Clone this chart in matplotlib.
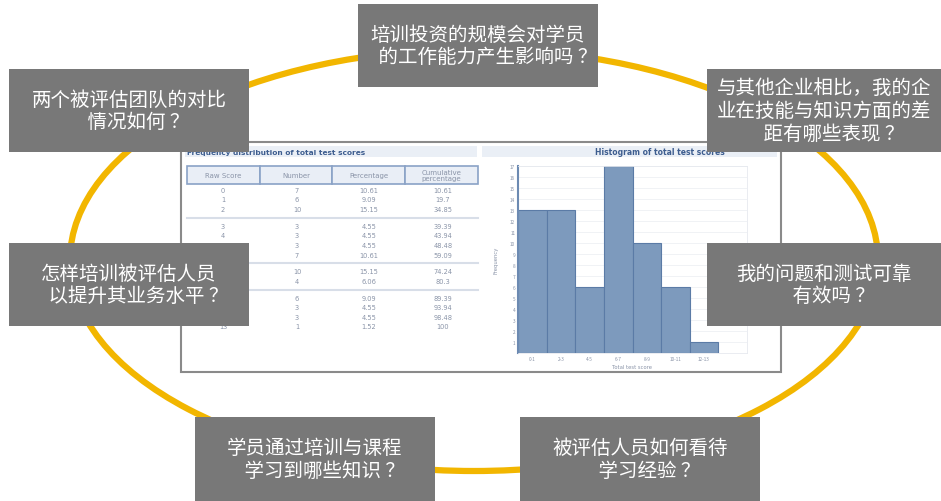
import numpy as np
import matplotlib
matplotlib.use("Agg")
import matplotlib.pyplot as plt
from matplotlib.patches import Ellipse, Rectangle

plt.rcParams['font.family'] = ['Noto Sans CJK SC', 'DejaVu Sans']

# question boxes (text)
questions = [
    "培训投资的规模会对学员\n　的工作能力产生影响吗 ？",
    "两个被评估团队的对比\n　情况如何 ？",
    "与其他企业相比，我的企\n业在技能与知识方面的差\n　距有哪些表现 ？",
    "怎样培训被评估人员\n　以提升其业务水平 ？",
    "我的问题和测试可靠\n　有效吗 ？",
    "学员通过培训与课程\n　学习到哪些知识 ？",
    "被评估人员如何看待\n　学习经验 ？",
]

# frequency table
raw_score = ["0", "1", "2", "3", "4", "5", "6", "7", "8", "9", "10", "11", "13"]
number = ["7", "6", "10", "3", "3", "3", "7", "10", "4", "6", "3", "3", "1"]
percentage = ["10.61", "9.09", "15.15", "4.55", "4.55", "4.55", "10.61",
              "15.15", "6.06", "9.09", "4.55", "4.55", "1.52"]
cumulative = ["10.61", "19.7", "34.85", "39.39", "43.94", "48.48", "59.09",
              "74.24", "80.3", "89.39", "93.94", "98.48", "100"]
table_header = ["Raw Score", "Number", "Percentage", "Cumulative\npercentage"]
group_sizes = [3, 4, 2, 4]

# histogram
bins = ["0-1", "2-3", "4-5", "6-7", "8-9", "10-11", "12-13"]
freq = [13, 13, 6, 17, 10, 6, 1]

W, H = 941, 502
fig = plt.figure(figsize=(W / 100, H / 100), dpi=100)

# background layer: ellipse + screenshot panel
ax = fig.add_axes([0, 0, 1, 1])
ax.set_xlim(0, W)
ax.set_ylim(H, 0)
ax.axis('off')
ax.set_zorder(0)

ax.add_patch(Ellipse((474, 261), 808, 422, fill=False, edgecolor='#F2B600', lw=4.5))
ax.add_patch(Rectangle((181, 143), 600, 230, facecolor='white', edgecolor='#8a8a8a', lw=1.5))
ax.add_patch(Rectangle((185, 147), 292, 11, facecolor='#eaeff6', edgecolor='none'))
ax.add_patch(Rectangle((482, 147), 295, 11, facecolor='#eaeff6', edgecolor='none'))
ax.text(187, 153, "Frequency distribution of total test scores", fontsize=5.3,
        fontweight='bold', color='#3d5d8f', va='center', family='DejaVu Sans')
ax.text(660, 153, "Histogram of total test scores", fontsize=5.5,
        fontweight='bold', color='#3d5d8f', va='center', ha='center', family='DejaVu Sans')

col_edges = [187, 260, 332, 405, 478]
for i, lab in enumerate(table_header):
    ax.add_patch(Rectangle((col_edges[i], 167), col_edges[i + 1] - col_edges[i], 18,
                           facecolor='#e9eef6', edgecolor='#8aa2c6', lw=1.2))
    ax.text((col_edges[i] + col_edges[i + 1]) / 2, 176, lab, fontsize=5, color='#8a94a8',
            ha='center', va='center', linespacing=0.85, family='DejaVu Sans')

col_x = [223, 297, 369, 443]
row_y = []
r = 0
for g, n in enumerate(group_sizes):
    for k in range(n):
        row_y.append(191 + r * 9.5 + g * 7.5)
        r += 1
for i in range(len(raw_score)):
    for j, col in enumerate([raw_score, number, percentage, cumulative]):
        ax.text(col_x[j], row_y[i], col[i], fontsize=4.8, color='#8a94a8',
                ha='center', va='center', family='DejaVu Sans')
r = 0
for g, n in enumerate(group_sizes[:-1]):
    r += n
    ysep = (row_y[r - 1] + row_y[r]) / 2
    ax.plot([187, 478], [ysep, ysep], color='#d8dee8', lw=1.5)

# histogram
hx = fig.add_axes([518 / W, 1 - 354 / H, 229 / W, 187 / H])
hx.set_zorder(1)
xpos = np.arange(len(bins))
hx.bar(xpos, freq, width=1, color='#7d9abd', edgecolor='#5b7ba6', lw=0.8, zorder=2)
hx.set_xlim(-0.5, 7.5)
hx.set_ylim(0, 17)
hx.set_yticks(range(1, 18))
hx.set_xticks(xpos)
hx.set_xticklabels(bins)
hx.tick_params(labelsize=3.4, colors='#8a94a8', length=0, pad=2)
hx.grid(axis='y', color='#eef0f4', lw=0.6, zorder=0)
for s in ['top', 'right', 'bottom']:
    hx.spines[s].set_color('#e6e9ef')
    hx.spines[s].set_linewidth(0.6)
hx.spines['left'].set_color('#6c8ab2')
hx.spines['left'].set_linewidth(1.5)
hx.set_xlabel("Total test score", fontsize=3.8, color='#8a94a8', labelpad=2, family='DejaVu Sans')
hx.set_ylabel("Frequency", fontsize=3.8, color='#8a94a8', labelpad=8, family='DejaVu Sans')

# overlay: question boxes
top = fig.add_axes([0, 0, 1, 1])
top.set_xlim(0, W)
top.set_ylim(H, 0)
top.axis('off')
top.set_zorder(2)
top.patch.set_alpha(0)

boxes = [(358, 5, 240, 83), (9, 70, 240, 83), (707, 70, 234, 83), (9, 244, 240, 83),
         (707, 244, 234, 83), (195, 418, 240, 84), (520, 418, 240, 84)]
for (x0, y0, w, h), q in zip(boxes, questions):
    top.add_patch(Rectangle((x0, y0), w, h, facecolor='#787878', edgecolor='none'))
    top.text(x0 + w / 2, y0 + h / 2, q, color='white', fontsize=14, ha='center',
             va='center', multialignment='center', linespacing=1.1)

fig.savefig("out.png", dpi=100)
